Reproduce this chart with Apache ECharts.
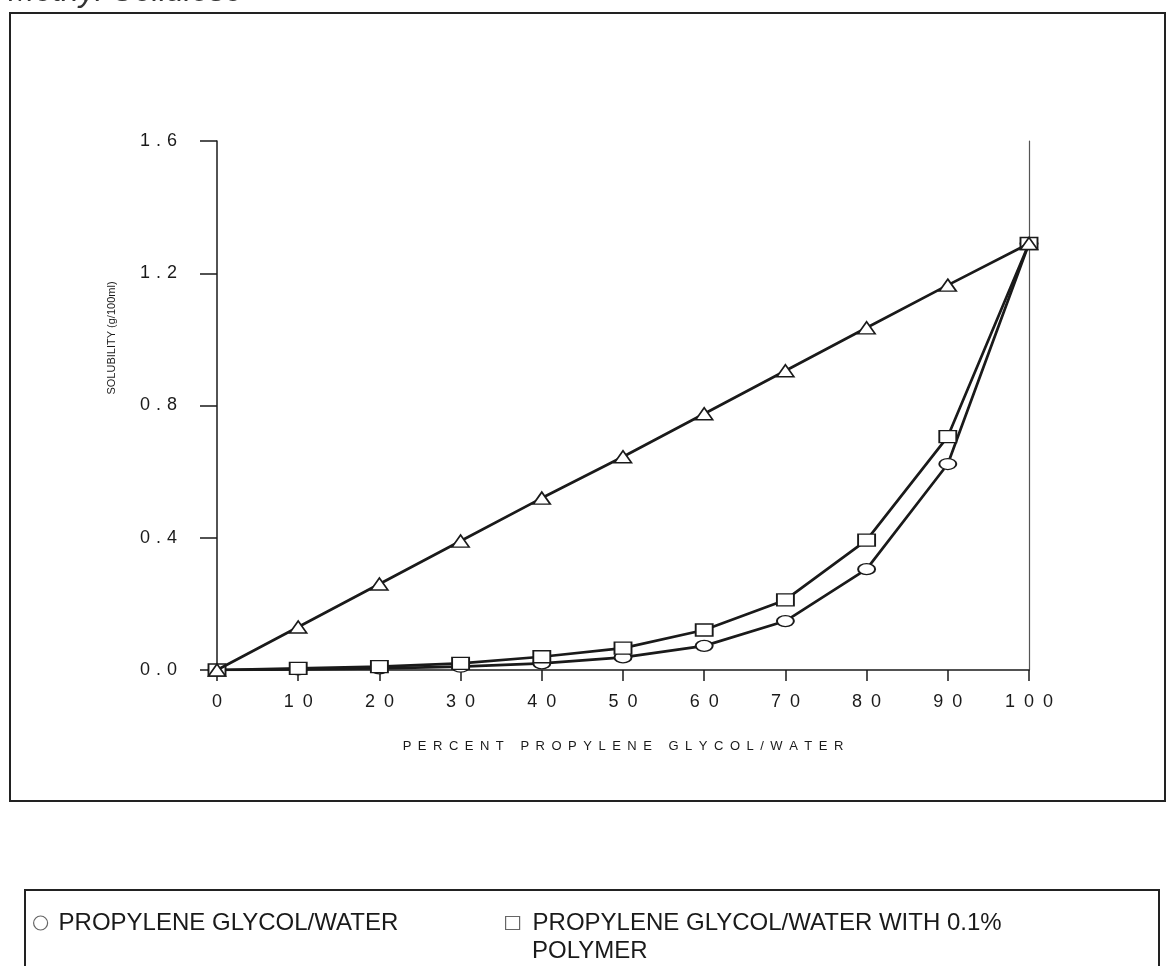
<!DOCTYPE html>
<html>
<head>
<meta charset="utf-8">
<style>
  html, body { margin: 0; padding: 0; background: #fff; }
  #chart { width: 1166px; height: 966px; }
</style>
<script src="https://cdn.jsdelivr.net/npm/echarts@6/dist/echarts.min.js"></script>
</head>
<body>
<div id="chart"></div>
<script>
// Percent propylene glycol in the solvent mixture
const percentPG = [0, 10, 20, 30, 40, 50, 60, 70, 80, 90, 100];
// Solubility (g/100ml) for each solvent system
const pgWater = [0, 0.002, 0.005, 0.01, 0.02, 0.038, 0.073, 0.148, 0.305, 0.623, 1.29];
const pgWaterPolymer = [0, 0.005, 0.01, 0.02, 0.04, 0.066, 0.121, 0.212, 0.393, 0.706, 1.29];
const thirdSeries = [0, 0.13, 0.26, 0.39, 0.52, 0.645, 0.775, 0.905, 1.035, 1.164, 1.29];

const seriesNames = ['PROPYLENE GLYCOL/WATER', 'PROPYLENE GLYCOL/WATER WITH 0.1% POLYMER', 'SERIES 3'];
const legendLines = [['PROPYLENE GLYCOL/WATER'], ['PROPYLENE GLYCOL/WATER WITH 0.1%', 'POLYMER']];

const xTitle = 'PERCENT PROPYLENE GLYCOL/WATER';
const yTitle = 'SOLUBILITY (g/100ml)';
const pageTitle = 'Methyl Cellulose';

const FONT = '"Liberation Sans", Arial, Helvetica, sans-serif';
const INK = '#1a1a1a';
const LEGEND_SIZE = 24;

// Spread characters apart, the way the old plotting package printed labels
function spread(s, gap) {
  return s.split('').join(gap);
}

function pairs(ys) {
  return percentPG.map((x, i) => [x, ys[i]]);
}

const chart = echarts.init(document.getElementById('chart'));

const lineStyle = { color: INK, width: 2.7 };
const markerStyle = { color: '#fff', borderColor: INK, borderWidth: 1.6 };
const legendText = { color: INK, fontFamily: FONT, fontSize: LEGEND_SIZE, lineHeight: 28 };
const legendIcon = { color: '#fff', borderColor: '#666', borderWidth: 1.2 };

chart.setOption({
  backgroundColor: '#fff',
  animation: false,
  grid: { left: 217, top: 141, right: 137, bottom: 296, containLabel: false },
  xAxis: {
    type: 'value',
    min: 0, max: 100, interval: 10,
    axisLine: { lineStyle: { color: INK, width: 1.5 } },
    axisTick: { show: true, inside: false, length: 11, lineStyle: { color: INK, width: 1.5 } },
    splitLine: { show: false },
    axisLabel: {
      margin: 23,
      color: INK, fontFamily: FONT, fontSize: 18,
      formatter: v => spread(String(v), '\u2002')
    },
    name: spread(xTitle, '\u2002'),
    nameLocation: 'middle',
    nameGap: 70,
    nameTextStyle: { color: INK, fontFamily: FONT, fontSize: 13 }
  },
  yAxis: [{
    type: 'value',
    min: 0, max: 1.6, interval: 0.4,
    axisLine: { show: true, lineStyle: { color: INK, width: 1.5 } },
    axisTick: { show: true, inside: false, length: 17, lineStyle: { color: INK, width: 1.5 } },
    splitLine: { show: false },
    axisLabel: {
      margin: 40,
      color: INK, fontFamily: FONT, fontSize: 18,
      formatter: v => spread(v.toFixed(1), '\u2004')
    }
  }, {
    type: 'value',
    position: 'right',
    min: 0, max: 1.6, interval: 0.4,
    axisLine: { show: true, lineStyle: { color: '#555', width: 1.2 } },
    axisTick: { show: false },
    axisLabel: { show: false },
    splitLine: { show: false }
  }],
  legend: [{
    left: 33, top: 909, padding: 0,
    icon: 'circle', itemWidth: 14, itemHeight: 14,
    itemStyle: legendIcon,
    textStyle: Object.assign({ padding: [0, 0, 0, 6] }, legendText),
    formatter: () => legendLines[0][0],
    data: [seriesNames[0]]
  }, {
    left: 505, top: 909, padding: 0,
    icon: 'rect', itemWidth: 14, itemHeight: 13,
    itemStyle: legendIcon,
    textStyle: Object.assign({ padding: [0, 0, 0, 8] }, legendText),
    formatter: () => legendLines[1][0],
    data: [seriesNames[1]]
  }],
  graphic: [
    {
      type: 'rect', silent: true,
      shape: { x: 10, y: 13, width: 1155, height: 788 },
      style: { fill: 'none', stroke: '#222', lineWidth: 2 }
    },
    {
      type: 'rect', silent: true,
      shape: { x: 25, y: 890, width: 1134, height: 120 },
      style: { fill: 'none', stroke: '#222', lineWidth: 2 }
    },
    {
      // continuation line of the second legend entry
      type: 'text', silent: true,
      x: 532, y: 951,
      style: { text: legendLines[1][1], fill: INK, font: LEGEND_SIZE + 'px ' + FONT, textVerticalAlign: 'middle' }
    },
    {
      type: 'text', silent: true,
      x: 112, y: 338, rotation: Math.PI / 2,
      style: { text: yTitle, fill: INK, font: '11px ' + FONT, textAlign: 'center', textVerticalAlign: 'middle' }
    },
    {
      type: 'text', silent: true,
      x: 8, y: 8,
      style: { text: pageTitle, fill: '#333', font: 'italic 32px ' + FONT, textVerticalAlign: 'bottom' }
    }
  ],
  series: [{
    name: seriesNames[0],
    type: 'line',
    data: pairs(pgWater),
    symbol: 'circle', symbolSize: [17, 11],
    lineStyle: lineStyle, itemStyle: markerStyle, z: 2
  }, {
    name: seriesNames[1],
    type: 'line',
    data: pairs(pgWaterPolymer),
    symbol: 'rect', symbolSize: [17, 12],
    lineStyle: lineStyle, itemStyle: markerStyle, z: 3
  }, {
    name: seriesNames[2],
    type: 'line',
    data: pairs(thirdSeries),
    symbol: 'triangle', symbolSize: [17, 12],
    lineStyle: lineStyle, itemStyle: markerStyle, z: 4
  }]
});
</script>
</body>
</html>
